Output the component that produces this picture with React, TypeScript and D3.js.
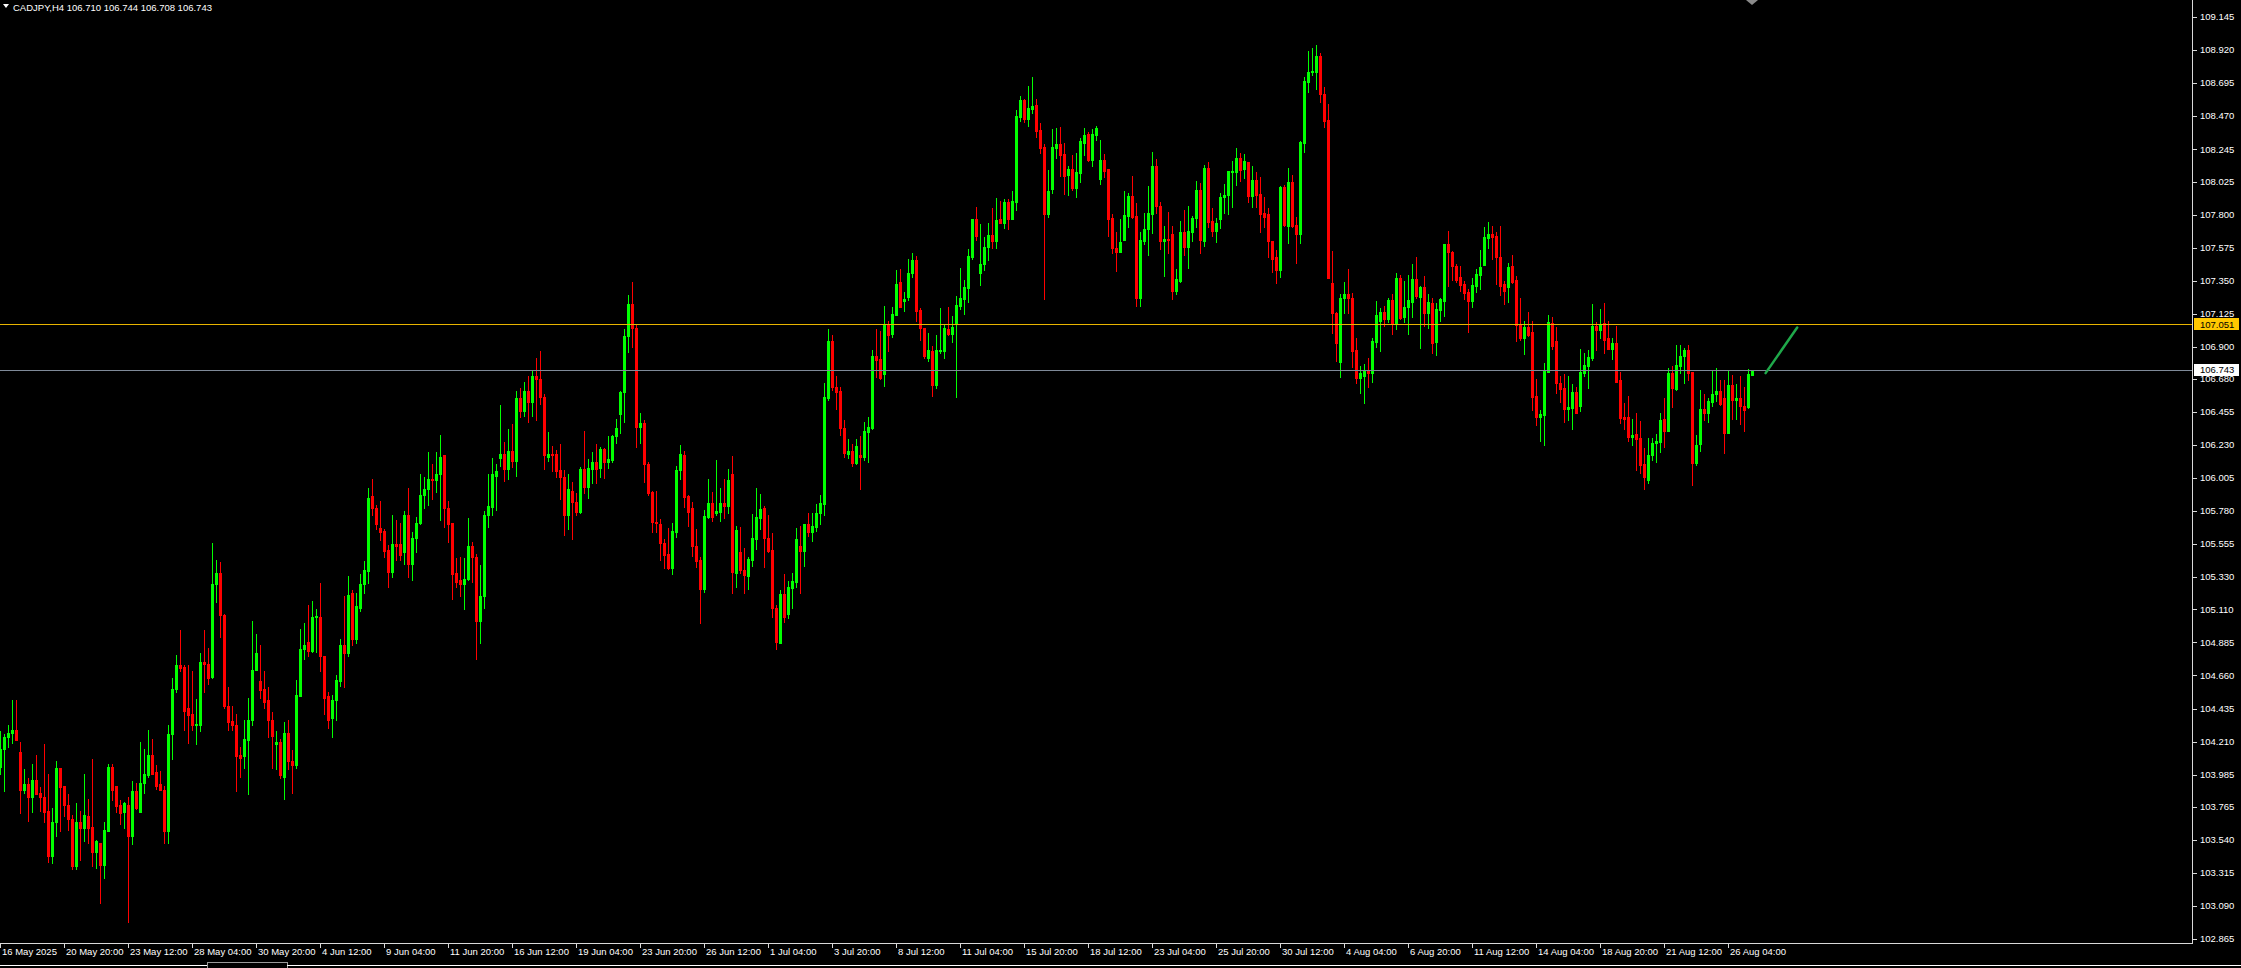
import React from "react";
import * as d3 from "d3";

const symbolTitle = "CADJPY,H4";
const titleValues = ["106.710", "106.744", "106.708", "106.743"];

const opens = [
104.04,104.16,104.24,104.27,104.29,104.14,103.88,103.92,103.83,103.95,
103.86,103.83,103.74,103.43,103.66,104.03,103.91,103.78,103.68,103.36,
103.66,103.62,103.70,103.63,103.46,103.52,103.37,103.60,104.04,103.91,
103.78,103.73,103.78,103.57,103.87,103.73,103.93,103.98,104.12,104.00,
103.92,103.88,103.60,104.26,104.57,104.73,104.72,104.44,104.40,104.32,
104.32,104.75,104.74,104.65,105.28,105.36,105.07,104.45,104.35,104.32,
104.12,104.11,104.22,104.36,104.70,104.62,104.57,104.49,104.36,104.19,
104.21,103.97,104.27,104.08,104.05,104.52,104.84,104.89,104.83,105.06,
105.06,104.79,104.52,104.37,104.49,104.62,104.87,104.81,105.22,104.91,
105.12,105.28,105.37,105.88,105.80,105.665,105.645,105.515,105.365,105.556,
105.556,105.50,105.75,105.42,105.60,105.70,105.89,105.93,106.00,105.99,
106.03,106.16,105.80,105.70,105.36,105.31,105.28,105.32,105.54,105.47,
105.03,105.20,105.75,105.81,106.02,106.14,106.17,106.065,106.19,106.12,
106.55,106.46,106.60,106.52,106.70,106.68,106.56,106.15,106.17,106.17,
106.06,106.01,105.75,105.92,105.84,105.775,106.066,105.946,106.07,106.116,
106.075,106.20,106.116,106.13,106.29,106.44,106.59,106.97,107.19,107.03,
106.35,106.377,106.10,105.91,105.707,105.69,105.56,105.487,105.39,105.64,
106.06,106.16,105.882,105.80,105.54,105.446,105.249,105.74,105.832,105.764,
105.776,105.833,105.817,106.03,105.36,105.499,105.38,105.34,105.447,105.59,
105.735,105.803,105.594,105.515,105.12,104.884,105.215,105.076,105.254,105.30,
105.544,105.508,105.692,105.64,105.674,105.764,105.828,106.548,106.94,106.627,
106.60,106.348,106.17,106.192,106.105,106.162,106.146,106.32,106.348,106.836,
106.816,106.714,107.048,106.986,107.115,107.343,107.21,107.24,107.40,107.49,
107.15,107.025,106.825,106.87,106.64,106.87,106.87,107.02,106.986,107.054,
107.18,107.225,107.297,107.513,107.767,107.404,107.463,107.577,107.661,107.62,
107.767,107.74,107.883,107.77,107.888,108.462,108.58,108.451,108.52,108.546,
108.376,108.258,107.804,107.974,108.253,108.281,108.213,108.07,108.11,107.983,
108.085,108.29,108.348,108.171,108.342,108.042,108.171,108.11,107.779,107.574,
107.547,107.63,107.79,107.926,107.79,107.233,107.622,107.70,107.804,108.13,
107.858,107.62,107.633,107.667,107.281,107.347,107.679,107.581,107.683,107.778,
107.967,107.622,108.115,107.756,107.688,107.77,107.917,107.933,108.092,108.092,
108.183,108.11,108.155,107.926,108.035,107.94,107.808,107.803,107.622,107.508,
107.422,107.99,107.724,108.024,107.729,107.667,108.29,108.705,108.769,108.773,
108.88,108.621,108.444,107.331,107.131,106.797,107.229,107.256,107.229,106.877,
106.684,106.702,106.734,106.722,106.934,107.077,107.133,107.088,107.217,107.054,
107.365,107.10,107.168,107.206,107.358,107.24,107.304,107.127,107.195,106.934,
107.15,107.213,107.599,107.547,107.449,107.372,107.327,107.274,107.213,107.315,
107.388,107.456,107.642,107.667,107.654,107.508,107.327,107.304,107.449,107.354,
107.047,106.961,107.036,106.997,106.564,106.423,106.434,106.73,107.059,106.94,
106.654,106.62,106.475,106.484,106.589,106.496,106.72,106.77,106.825,107.041,
107.013,107.059,106.957,106.884,106.922,106.673,106.423,106.423,106.287,106.305,
106.28,106.10,105.992,106.162,106.241,106.253,106.405,106.328,106.718,106.612,
106.768,106.836,106.877,106.73,106.11,106.237,106.475,106.45,106.525,106.575,
106.598,106.548,106.314,106.639,106.537,106.553,106.496,106.487,106.710
];

const highs = [
104.28,104.26,104.32,104.49,104.49,104.21,104.02,103.96,104.06,104.12,
103.90,104.19,103.99,103.76,104.08,104.03,103.91,103.85,103.71,103.79,
103.74,103.99,103.82,104.09,103.54,103.52,103.66,104.06,104.06,103.91,
103.81,103.80,103.83,103.94,103.93,104.21,104.16,104.29,104.23,104.05,
104.01,103.91,104.32,104.64,104.80,104.97,104.73,104.73,104.69,104.50,
104.81,104.97,104.85,105.56,105.45,105.43,105.08,104.58,104.45,104.40,
104.17,104.36,104.51,105.03,104.94,104.87,104.69,104.58,104.41,104.28,
104.23,104.34,104.36,104.15,104.63,104.98,105.02,105.14,105.17,105.11,
105.29,104.79,104.55,104.53,104.66,104.91,105.20,105.34,105.24,105.22,
105.35,105.44,105.94,106.00,105.82,105.85,105.66,105.55,105.75,105.72,
105.70,105.78,105.94,105.64,105.74,106.03,106.01,106.18,106.10,106.18,
106.30,106.16,105.85,105.70,105.46,105.47,105.46,105.73,105.57,105.49,
105.41,105.78,106.03,106.14,106.10,106.50,106.25,106.34,106.37,106.60,
106.62,106.66,106.70,106.74,106.82,106.87,106.58,106.32,106.22,106.196,
106.24,106.06,106.03,105.98,105.90,106.08,106.325,106.134,106.18,106.24,
106.214,106.21,106.29,106.298,106.41,106.60,107.02,107.25,107.338,107.047,
106.445,106.40,106.116,105.916,105.916,105.723,105.587,105.664,105.696,106.087,
106.23,106.19,105.89,105.84,105.657,105.47,105.787,106.00,105.907,106.128,
105.94,105.996,106.067,106.155,105.678,105.669,105.526,105.465,105.76,105.94,
105.896,105.814,105.753,105.628,105.14,105.242,105.351,105.306,105.36,105.667,
105.678,105.692,105.769,105.77,105.828,105.89,106.65,107.02,106.98,106.70,
106.627,106.40,106.271,106.237,106.271,106.29,106.385,106.418,106.877,107.02,
107.007,107.177,107.075,107.168,107.423,107.429,107.27,107.50,107.536,107.518,
107.161,107.03,106.99,106.905,106.98,107.161,107.048,107.168,107.109,107.245,
107.434,107.354,107.563,107.767,107.85,107.733,107.65,107.74,107.842,107.91,
107.892,107.904,107.904,107.96,108.512,108.608,108.585,108.676,108.74,108.587,
108.422,108.281,108.104,108.383,108.388,108.394,108.285,108.131,108.206,108.217,
108.319,108.387,108.364,108.383,108.403,108.308,108.212,108.11,107.803,107.679,
107.769,107.96,107.944,108.062,107.876,107.679,107.808,107.994,108.228,108.176,
107.887,107.722,107.815,107.722,107.426,107.756,107.831,107.858,107.79,108.028,
108.017,108.137,108.155,107.847,107.778,107.944,108.008,108.096,108.167,108.255,
108.221,108.212,108.155,108.13,108.092,108.058,107.922,107.842,107.622,107.558,
107.996,108.001,108.119,108.069,107.785,108.301,108.739,108.914,108.937,108.955,
108.898,108.666,108.553,107.551,107.138,107.256,107.338,107.429,107.263,106.956,
106.768,106.781,106.82,106.956,107.211,107.165,107.177,107.233,107.258,107.399,
107.388,107.347,107.388,107.463,107.508,107.315,107.383,107.256,107.229,107.199,
107.234,107.599,107.688,107.554,107.463,107.449,107.347,107.293,107.365,107.429,
107.558,107.713,107.747,107.722,107.679,107.722,107.347,107.468,107.524,107.381,
107.229,107.075,107.134,107.075,106.677,106.468,106.786,107.116,107.104,107.036,
106.70,106.713,106.70,106.645,106.623,106.884,106.854,106.877,107.19,107.066,
107.156,107.195,107.075,106.957,107.041,106.73,106.514,106.564,106.407,106.446,
106.394,106.207,106.28,106.275,106.305,106.446,106.553,106.752,106.768,106.911,
106.911,106.893,106.911,106.73,106.298,106.605,106.578,106.553,106.734,106.752,
106.673,106.673,106.734,106.707,106.646,106.70,106.623,106.748,106.744
];

const lows = [
103.99,103.87,104.17,104.20,104.22,103.72,103.86,103.67,103.73,103.85,
103.74,103.66,103.39,103.38,103.57,103.60,103.70,103.61,103.34,103.34,
103.40,103.53,103.52,103.36,103.35,103.11,103.28,103.60,103.81,103.73,
103.65,103.62,102.98,103.51,103.75,103.73,103.86,103.97,103.99,103.89,
103.88,103.52,103.52,104.09,104.55,104.69,104.29,104.20,104.29,104.19,
104.28,104.55,104.60,104.64,105.16,104.92,104.44,104.29,104.29,103.87,
103.97,104.03,103.85,104.32,104.70,104.51,104.44,104.24,104.03,104.02,
103.96,103.82,104.02,103.86,104.03,104.52,104.77,104.79,104.82,104.82,
104.69,104.40,104.30,104.24,104.36,104.59,104.58,104.79,104.87,104.88,
105.10,105.225,105.29,105.75,105.66,105.58,105.47,105.265,105.33,105.45,
105.45,105.42,105.33,105.31,105.50,105.69,105.80,105.82,105.86,105.91,
105.72,105.67,105.57,105.18,105.26,105.20,105.11,105.31,105.30,104.77,
104.88,105.12,105.67,105.75,105.79,106.09,105.985,106.00,106.08,106.02,
106.42,106.43,106.39,106.43,106.40,106.51,106.07,106.12,106.05,106.01,
105.86,105.62,105.66,105.59,105.75,105.77,105.90,105.87,105.97,105.97,
106.014,106.007,106.075,106.116,106.246,106.31,106.39,106.865,106.90,106.218,
106.241,105.98,105.89,105.635,105.64,105.45,105.394,105.385,105.349,105.605,
105.996,105.81,105.68,105.476,105.40,105.02,105.23,105.73,105.714,105.753,
105.714,105.73,105.764,105.224,105.265,105.36,105.22,105.25,105.406,105.521,
105.658,105.401,105.503,105.06,104.838,104.88,105.026,105.05,105.117,105.26,
105.224,105.406,105.61,105.578,105.646,105.692,105.753,106.54,106.605,106.475,
106.298,106.15,106.144,106.087,106.10,105.93,106.128,106.112,106.339,106.696,
106.68,106.632,106.87,106.964,107.115,107.168,107.14,107.22,107.377,107.077,
106.945,106.825,106.80,106.566,106.616,106.86,106.825,106.98,106.934,106.56,
107.156,107.123,107.207,107.497,107.627,107.32,107.422,107.49,107.57,107.575,
107.74,107.71,107.70,107.77,107.831,108.437,108.433,108.406,108.494,108.331,
108.217,107.225,107.786,107.949,108.188,108.063,107.94,107.933,107.967,107.922,
108.024,108.205,108.165,108.13,108.308,108.008,108.058,107.656,107.536,107.415,
107.547,107.626,107.717,107.778,107.179,107.179,107.60,107.524,107.676,107.813,
107.565,107.383,107.54,107.224,107.258,107.338,107.524,107.435,107.62,107.717,
107.536,107.585,107.713,107.654,107.615,107.71,107.813,107.804,107.853,108.001,
108.031,108.051,107.887,107.853,107.849,107.683,107.713,107.513,107.41,107.336,
107.376,107.724,107.608,107.717,107.467,107.608,108.228,108.637,108.75,108.653,
108.564,108.398,107.37,106.99,106.804,106.69,107.127,107.131,106.763,106.654,
106.582,106.514,106.627,106.661,106.90,106.872,107.04,107.07,106.983,107.018,
107.086,107.07,106.983,107.104,107.229,106.888,107.043,107.025,106.859,106.843,
107.077,107.111,107.315,107.354,107.343,107.279,107.224,107.002,107.172,107.274,
107.293,107.456,107.574,107.495,107.324,107.252,107.188,107.206,107.336,106.941,
106.945,106.85,106.975,106.468,106.366,106.259,106.23,106.73,106.884,106.586,
106.525,106.389,106.40,106.339,106.45,106.464,106.70,106.62,106.809,106.877,
106.961,106.859,106.882,106.816,106.661,106.378,106.337,106.26,106.23,106.06,
106.037,105.93,105.973,106.128,106.116,106.185,106.219,106.328,106.491,106.605,
106.723,106.655,106.673,105.958,106.094,106.191,106.40,106.389,106.496,106.53,
106.503,106.178,106.314,106.405,106.405,106.373,106.328,106.48,106.708
];

const closes = [
104.16,104.24,104.27,104.29,104.22,103.88,103.92,103.83,103.95,103.85,
103.83,103.73,103.43,103.66,104.03,103.90,103.78,103.68,103.36,103.66,
103.62,103.71,103.62,103.46,103.53,103.37,103.61,104.04,103.88,103.77,
103.72,103.79,103.57,103.87,103.76,103.93,103.99,104.12,103.99,103.91,
103.88,103.60,104.26,104.57,104.73,104.71,104.42,104.39,104.32,104.33,
104.75,104.74,104.64,105.28,105.36,105.07,104.45,104.34,104.32,104.11,
104.10,104.23,104.36,104.70,104.81,104.56,104.48,104.36,104.25,104.21,
103.98,104.27,104.08,104.05,104.53,104.84,104.87,104.83,105.06,105.065,
104.79,104.51,104.36,104.49,104.63,104.87,104.81,105.21,104.91,105.13,
105.28,105.38,105.87,105.80,105.69,105.64,105.51,105.365,105.556,105.54,
105.48,105.75,105.42,105.60,105.70,105.89,105.93,106.00,105.99,106.03,
106.15,105.80,105.69,105.35,105.30,105.28,105.32,105.54,105.465,105.03,
105.20,105.75,105.815,106.03,106.05,106.17,106.065,106.19,106.12,106.55,
106.46,106.60,106.52,106.70,106.68,106.56,106.16,106.17,106.16,106.055,
106.01,105.75,105.93,105.84,105.775,106.066,105.946,106.073,106.116,106.07,
106.20,106.116,106.134,106.29,106.343,106.59,106.97,107.19,107.03,106.355,
106.377,106.098,105.905,105.707,105.70,105.56,105.48,105.39,105.644,106.06,
106.17,105.878,105.776,105.54,105.44,105.249,105.746,105.832,105.74,105.78,
105.833,105.817,105.992,105.367,105.65,105.378,105.344,105.453,105.594,105.742,
105.792,105.594,105.508,105.117,104.89,105.215,105.056,105.26,105.303,105.59,
105.508,105.692,105.64,105.68,105.764,105.833,106.559,106.94,106.627,106.593,
106.348,106.173,106.192,106.11,106.224,106.146,106.325,106.355,106.836,106.809,
106.689,107.048,106.98,107.122,107.327,107.168,107.225,107.40,107.49,107.145,
107.025,106.836,106.877,106.639,106.877,106.877,107.027,106.986,107.036,107.184,
107.234,107.304,107.517,107.767,107.654,107.463,107.577,107.661,107.622,107.763,
107.74,107.883,107.77,107.892,108.471,108.58,108.451,108.528,108.54,108.372,
108.256,107.804,107.96,108.258,108.281,108.206,108.063,108.11,107.983,108.088,
108.303,108.342,108.171,108.348,108.387,108.171,108.096,107.77,107.57,107.547,
107.61,107.797,107.926,107.781,107.233,107.626,107.699,107.808,108.13,107.858,
107.622,107.633,107.626,107.281,107.358,107.679,107.581,107.69,107.778,107.967,
107.626,108.115,107.751,107.688,107.74,107.917,107.933,108.096,108.096,108.183,
108.103,108.165,107.926,108.035,107.933,107.803,107.785,107.622,107.497,107.422,
107.99,107.729,108.024,107.722,107.667,108.296,108.71,108.769,108.78,108.88,
108.619,108.439,107.37,107.127,106.927,107.229,107.256,107.229,106.872,106.684,
106.718,106.734,106.722,106.938,107.115,107.133,107.086,107.217,107.054,107.365,
107.093,107.168,107.217,107.358,107.247,107.304,107.127,107.202,106.922,107.154,
107.222,107.599,107.542,107.452,107.354,107.32,107.268,107.213,107.32,107.395,
107.44,107.645,107.667,107.649,107.508,107.315,107.281,107.44,107.343,107.047,
106.957,107.036,106.979,106.559,106.423,106.441,106.734,107.07,106.907,106.65,
106.611,106.475,106.491,106.589,106.45,106.725,106.775,106.827,107.041,107.013,
107.052,106.945,106.884,106.922,106.661,106.412,106.405,106.287,106.298,106.271,
106.094,106.014,106.162,106.241,106.257,106.40,106.328,106.723,106.621,106.775,
106.836,106.877,106.723,106.11,106.23,106.475,106.45,106.53,106.575,106.598,
106.51,106.314,106.639,106.537,106.553,106.496,106.469,106.714,106.743
];

const priceTicks = [
"109.145","108.920","108.695","108.470","108.245","108.025","107.800","107.575",
"107.350","107.125","106.900","106.680","106.455","106.230","106.005","105.780",
"105.555","105.330","105.110","104.885","104.660","104.435","104.210","103.985",
"103.765","103.540","103.315","103.090","102.865"
];

const timeLabels = [
"16 May 2025","20 May 20:00","23 May 12:00","28 May 04:00","30 May 20:00",
"4 Jun 12:00","9 Jun 04:00","11 Jun 20:00","16 Jun 12:00","19 Jun 04:00",
"23 Jun 20:00","26 Jun 12:00","1 Jul 04:00","3 Jul 20:00","8 Jul 12:00",
"11 Jul 04:00","15 Jul 20:00","18 Jul 12:00","23 Jul 04:00","25 Jul 20:00",
"30 Jul 12:00","4 Aug 04:00","6 Aug 20:00","11 Aug 12:00","14 Aug 04:00",
"18 Aug 20:00","21 Aug 12:00","26 Aug 04:00"
];
const timeLabelBars = [
0,16,32,48,64,80,96,112,128,144,160,176,192,208,224,240,256,272,288,304,
320,336,352,368,384,400,416,432
];

const levelPrice = 107.051;
const bidPrice = 106.743;
const arrowBars = [441.4, 449.3];
const arrowPrices = [106.72, 107.03];

const BULL = "#00ff00";
const BEAR = "#ff0000";
const FONT = "'Liberation Sans', Arial, sans-serif";

export default function App() {
  const W = 2241;
  const H = 968;
  const plotRight = 2192;
  const plotBottom = 943;
  const x = d3.scaleLinear().domain([0, 1]).range([0, 4]);
  const y = d3.scaleLinear().domain([102.865, 109.145]).range([939.0, 17.1]);

  const arrowLine = d3
    .line<number>()
    .x((_, i) => x(arrowBars[i]))
    .y((p) => y(p));

  return (
    <div style={{ position: "fixed", left: 0, top: 0, width: W, height: H, background: "#000" }}>
      <svg width={W} height={H} style={{ display: "block", background: "#000" }} fontFamily={FONT}>
        <rect x={0} y={0} width={W} height={H} fill="#000" />
        {/* candles */}
        <g shapeRendering="crispEdges">
          {opens.map((o, i) => {
            const c = closes[i];
            const h = highs[i];
            const l = lows[i];
            const col = c >= o ? BULL : BEAR;
            const cx = Math.round(x(i));
            const yT = Math.round(y(Math.max(o, c)));
            const yB = Math.round(y(Math.min(o, c)));
            const yH = Math.round(y(h));
            const yL = Math.round(y(l));
            return (
              <g key={i}>
                <rect x={cx} y={yH} width={1} height={Math.max(1, yL - yH + 1)} fill={col} />
                <rect x={cx - 1} y={yT} width={3} height={Math.max(1, yB - yT + 1)} fill={col} />
              </g>
            );
          })}
        </g>
        {/* horizontal level and bid lines */}
        <g shapeRendering="crispEdges">
          <rect x={0} y={Math.round(y(levelPrice))} width={plotRight} height={1} fill="#e8b400" />
          <rect x={0} y={Math.round(y(bidPrice))} width={plotRight} height={1} fill="#7f8a99" />
        </g>
        {/* arrow annotation */}
        <path d={arrowLine(arrowPrices) || ""} stroke="#1fa84a" strokeWidth={2.5} strokeLinecap="round" fill="none" />
        {/* shift marker */}
        <path d={`M${x(436.5)},0 L${x(439.5)},0 L${x(438)},5 Z`} fill="#8a8a8a" />
        {/* frame */}
        <g shapeRendering="crispEdges">
          <rect x={plotRight} y={0} width={1} height={plotBottom + 1} fill="#d8d8d8" />
          <rect x={0} y={plotBottom} width={plotRight + 1} height={1} fill="#d8d8d8" />
        </g>
        {/* price axis */}
        <g shapeRendering="crispEdges">
          {priceTicks.map((t) => (
            <rect key={t} x={plotRight} y={Math.round(y(+t))} width={5} height={1} fill="#d8d8d8" />
          ))}
        </g>
        {priceTicks.map((t) => (
          <text key={"l" + t} x={plotRight + 8} y={y(+t) + 3.3} fill="#ffffff" fontSize={9.5}>
            {t}
          </text>
        ))}
        {/* level label */}
        <rect x={plotRight + 2} y={Math.round(y(levelPrice)) - 6} width={45} height={12} fill="#ffc800" shapeRendering="crispEdges" />
        <text x={plotRight + 8} y={y(levelPrice) + 3.3} fill="#000" fontSize={9.5}>
          {levelPrice.toFixed(3)}
        </text>
        <rect x={plotRight + 2} y={Math.round(y(bidPrice)) - 6} width={45} height={12} fill="#ffffff" shapeRendering="crispEdges" />
        <text x={plotRight + 8} y={y(bidPrice) + 3.3} fill="#000" fontSize={9.5}>
          {bidPrice.toFixed(3)}
        </text>
        {/* time axis */}
        <g shapeRendering="crispEdges">
          {timeLabelBars.map((b) => (
            <rect key={"t" + b} x={Math.round(x(b))} y={plotBottom} width={1} height={5} fill="#d8d8d8" />
          ))}
        </g>
        {timeLabels.map((t, i) => (
          <text key={t} x={x(timeLabelBars[i]) + 2} y={955} fill="#ffffff" fontSize={9.5}>
            {t}
          </text>
        ))}
        {/* bottom tab strip */}
        <g shapeRendering="crispEdges">
          <rect x={0} y={965} width={207} height={1} fill="#ffffff" />
          <rect x={207} y={962} width={80} height={6} fill="none" stroke="#9a9a9a" />
          <rect x={287} y={965} width={W - 287} height={1} fill="#ffffff" />
        </g>
        {/* title */}
        <path d="M3,4 L9,4 L6,8 Z" fill="#ffffff" />
        <text x={13} y={11} fill="#ffffff" fontSize={9.5}>
          {symbolTitle + "  " + titleValues.join(" ")}
        </text>
      </svg>
    </div>
  );
}
